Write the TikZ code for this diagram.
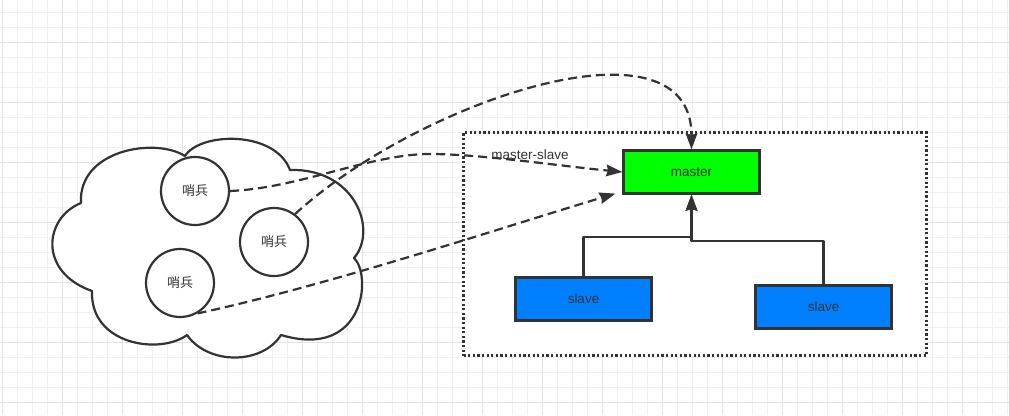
\documentclass[tikz,border=0pt]{standalone}
\usepackage{fontspec}
\setmainfont{Liberation Sans}
\newfontfamily\cjk{Noto Sans CJK SC}
\usetikzlibrary{positioning,arrows.meta,calc}
\definecolor{figline}{HTML}{333333}
\definecolor{gridminor}{HTML}{F1F1F1}
\definecolor{gridmajor}{HTML}{E3E3E3}
\definecolor{mastergreen}{HTML}{00FF00}
\definecolor{slaveblue}{HTML}{007FFF}
\tikzset{
  fig/.style={x=1pt,y=-1pt,font=\fontsize{13.5}{16}\selectfont,text=figline},
  box/.style={draw=figline,line width=2.2pt,minimum width=136pt,minimum height=43pt,
              inner sep=0pt,align=center},
  masterbox/.style={box,fill=mastergreen},
  slavebox/.style={box,fill=slaveblue},
  sentinel/.style={circle,draw=figline,line width=2.2pt,fill=white,minimum size=68pt,
                   inner sep=0pt,font=\cjk\fontsize{13}{15}\selectfont},
  groupbox/.style={draw=figline,line width=2.2pt,dash pattern=on 2.2pt off 2.4pt,fill=white,
                   minimum width=463pt,minimum height=223pt,inner sep=0pt},
  cloudline/.style={draw=figline,line width=2.2pt,fill=white,line join=round},
  ln/.style={-{Stealth[length=16pt,width=11.5pt,inset=1.5pt]},line width=2.2pt,draw=figline,
             line join=round},
  lnd/.style={ln,dash pattern=on 9pt off 5pt},
  lbl/.style={inner sep=1pt},
}

\begin{document}
\begin{tikzpicture}[fig]
\useasboundingbox (0,0) rectangle (1009,415);

% =======================  background grid  =====================
\foreach \gx in {2,17,...,1007} \draw[gridminor,line width=1pt] (\gx,0) -- (\gx,415);
\foreach \gy in {12,27,...,402} \draw[gridminor,line width=1pt] (0,\gy) -- (1009,\gy);
\foreach \gx in {2,62,...,962} \draw[gridmajor,line width=1pt] (\gx,0) -- (\gx,415);
\foreach \gy in {42,102,...,402} \draw[gridmajor,line width=1pt] (0,\gy) -- (1009,\gy);

% =======================  RIGHT: master-slave group  =====================
\node[groupbox] (group) at (695,244) {};
\node[masterbox] (master) at (691.5,172) {master};
\node[slavebox] (slave1) at (583.5,299) {slave};
\node[slavebox] (slave2) at (823.5,307) {slave};

\draw[ln] (slave1.north) |- ($(master.south)+(0,42)$) -- (master.south);
\draw[ln] (slave2.north) |- ($(master.south)+(0,46)$) -- (master.south);

% =======================  LEFT: sentinel cloud  =====================
\draw[cloudline] (81,203) .. controls (78,150) and (155,137) .. (185,156)
  .. controls (200,132) and (275,130) .. (290,170)
  .. controls (355,168) and (378,230) .. (354,258)
  .. controls (372,275) and (365,360) .. (281,335)
  .. controls (262,365) and (208,365) .. (187,335)
  .. controls (160,355) and (90,345) .. (92,291)
  .. controls (38,272) and (44,218) .. cycle;

\node[sentinel] (s1) at (195,191) {哨兵};
\node[sentinel] (s2) at (274,242) {哨兵};
\node[sentinel] (s3) at (180,283) {哨兵};

% sentinels watching the master
\coordinate (mtip) at ($(master.south west)+(-7,-1)$);
\draw[lnd] (s1.east) .. controls (300,188) and (370,154) .. (430,154)
  .. controls (480,154) and (560,166) .. (master.west);
\draw[lnd] (s2.53) .. controls (420,100) and (691.5,10) .. (master.north);
\draw[lnd] (s3.-60) .. controls (330,285) and (510,225) .. (mtip);
\node[lbl] (mslbl) at (530,155) {master-slave};

\end{tikzpicture}
\end{document}
